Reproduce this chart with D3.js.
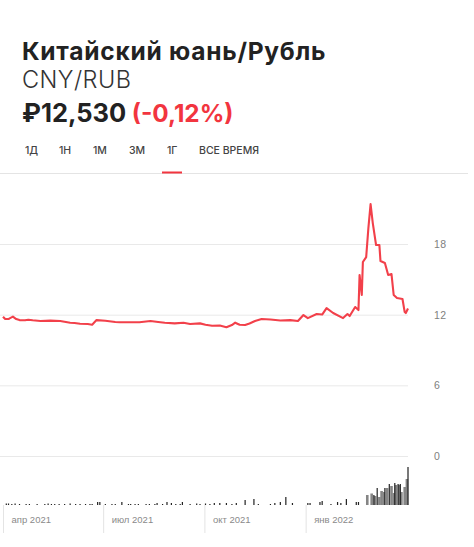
<!DOCTYPE html>
<html>
<head>
<meta charset="utf-8">
<script src="https://cdn.jsdelivr.net/npm/d3@7"></script>
<style>
  html, body { margin: 0; padding: 0; background: #fff; }
  svg { display: block; font-family: Inter, "Noto Sans", sans-serif; }
  .y-axis .domain { display: none; }
  .y-axis line { stroke: #e9e9e9; }
  .y-axis text { fill: #808080; font-size: 10.5px; letter-spacing: 0.5px; }
  .x-axis .domain { display: none; }
  .x-axis line { stroke: #e4e4e4; }
  .x-axis text { fill: #8a8a8a; font-size: 9.5px; text-anchor: start; }
</style>
</head>
<body>
<svg id="chart" width="474" height="547"></svg>
<script>
var title = "Китайский юань/Рубль",
    ticker = "CNY/RUB",
    price = "₽12,530",
    change = "(-0,12%)";

var tabs = ["1Д", "1Н", "1М", "3М", "1Г", "ВСЕ ВРЕМЯ"],
    tabX = [25, 59, 93, 129, 167, 199],
    activeTab = "1Г";

// days since 1 apr 2021, rate
var lineDays = [0,2,5,6,9,12,15,20,23,27,34,43,52,61,65,70,77,81,85,93,102,106,115,124,134,141,147,156,164,170,179,184,190,197,203,208,211,215,220,224,229,235,243,252,261,268,273,277,285,290,294,300,309,313,315,320,323,324,326,327,330,332,334,336,339,342,343,347,350,353,355,358,363,365,366,368];
var lineValues = [11.83,11.63,11.63,11.69,11.83,11.63,11.54,11.52,11.57,11.52,11.46,11.49,11.46,11.32,11.29,11.23,11.21,11.15,11.54,11.49,11.38,11.35,11.35,11.35,11.46,11.38,11.32,11.26,11.32,11.21,11.26,11.15,11.06,11.08,10.93,11.12,11.32,11.15,11.12,11.25,11.46,11.63,11.59,11.50,11.54,11.46,11.97,11.71,12.05,12.01,12.56,12.14,11.71,12.05,11.88,12.65,12.39,15.37,13.67,16.47,16.89,19.35,21.39,19.78,17.91,17.91,16.55,16.38,15.37,15.45,13.67,13.41,13.33,12.22,12.14,12.53];

// volume, thin dark bars
var volDays = [3,5,8,11,15,21,24,31,38,41,44,47,51,56,61,66,70,75,79,81,86,88,93,99,102,108,114,116,120,123,130,133,138,140,145,149,153,157,161,163,170,176,179,184,188,192,197,203,208,212,220,228,232,243,247,252,257,263,277,279,288,290,298,304,307,312,321,323,337,340,347,351,356,359,361,368];
var volValues = [1.5,1.5,1,1.5,1,1,1,1,1,1.5,1,1,1,1,1.5,1,1,1,1,1,3,3,1,1,1,3,1,1,1,1,1,1,1,2,1,3,2,1,1,3,1,1.5,1,1.5,1,2,2,2,1,2,5,6,1,1,2,3,8,2,2,2,3,4,1,3,2,6,3,3,10,17,17,21,22,21,21,38];

// volume, wider grey bars at the end of the period
var volGreyDays = [331,335,338,342,344,346,349,353,355,357,360,362,365,367];
var volGreyValues = [10,11.5,9,8,14,13,17,19,12,20,20,13,18,26];

var yTicks = [0, 6, 12, 18];
var xTicks = [new Date(2021, 3, 1), new Date(2021, 6, 1), new Date(2021, 9, 1), new Date(2022, 0, 1)],
    xTickLabels = ["апр 2021", "июл 2021", "окт 2021", "янв 2022"];

var startDate = new Date(2021, 3, 1);
function toDate(d) { return d3.timeDay.offset(startDate, d); }

var svg = d3.select("#chart");

var x = d3.scaleTime().domain([startDate, toDate(368)]).range([3, 408]),
    y = d3.scaleLinear().domain([0, 18]).range([456, 244]),
    yVol = d3.scaleLinear().domain([0, 38]).range([505, 467]);

// HEADER
svg.append("text").attr("x", 22).attr("y", 59.5)
  .attr("font-size", 24.5).attr("font-weight", 700).attr("fill", "#222")
  .attr("letter-spacing", 0.75)
  .text(title);
svg.append("text").attr("x", 22).attr("y", 87.5)
  .attr("font-size", 23.5).attr("font-weight", 300).attr("fill", "#333")
  .attr("letter-spacing", 0.45)
  .text(ticker);

var head = svg.append("text").attr("x", 22).attr("y", 122)
  .attr("font-size", 25.5).attr("font-weight", 700);
head.append("tspan").attr("fill", "#222").text(price);
head.append("tspan").attr("fill", "#f2353f").attr("dx", 5.5).attr("font-size", 24.3).text(change);

// TABS
svg.selectAll(".tab").data(tabs).join("text")
  .attr("class", "tab")
  .attr("x", function(d, i) { return tabX[i]; })
  .attr("y", 154)
  .attr("font-size", 10.5).attr("font-weight", 500).attr("fill", "#444")
  .text(function(d) { return d; });

svg.append("line").attr("x1", 0).attr("x2", 468).attr("y1", 173.5).attr("y2", 173.5)
  .attr("stroke", "#e4e4e4");
svg.append("line")
  .attr("x1", tabX[tabs.indexOf(activeTab)] - 5).attr("x2", tabX[tabs.indexOf(activeTab)] + 15)
  .attr("y1", 172.5).attr("y2", 172.5)
  .attr("stroke", "#f2353f").attr("stroke-width", 2);

// AXES
svg.append("g").attr("class", "y-axis")
  .attr("transform", "translate(408,0)")
  .call(d3.axisRight(y).tickValues(yTicks).tickSize(-408).tickPadding(26).tickFormat(d3.format("d")))
  .call(function(g) { g.selectAll("line").attr("x2", -408); });

svg.append("g").attr("class", "x-axis")
  .attr("transform", "translate(0,505)")
  .call(d3.axisBottom(x).tickValues(xTicks).tickSize(28)
    .tickFormat(function(d, i) { return xTickLabels[i]; }))
  .call(function(g) {
    g.selectAll("text").attr("x", 8).attr("y", 15).attr("dy", "0.35em");
  });

// VOLUME
svg.append("g").selectAll("rect").data(volGreyDays).join("rect")
  .attr("x", function(d) { return x(toDate(d)) - 1.3; })
  .attr("width", 2.6)
  .attr("y", function(d, i) { return yVol(volGreyValues[i]); })
  .attr("height", function(d, i) { return yVol(0) - yVol(volGreyValues[i]); })
  .attr("fill", "#858585");

svg.append("g").selectAll("rect").data(volDays).join("rect")
  .attr("x", function(d) { return x(toDate(d)) - 0.6; })
  .attr("width", 1.2)
  .attr("y", function(d, i) { return yVol(volValues[i]); })
  .attr("height", function(d, i) { return yVol(0) - yVol(volValues[i]); })
  .attr("fill", "#222");

// RATE LINE
var line = d3.line()
  .x(function(d) { return x(toDate(d)); })
  .y(function(d, i) { return y(lineValues[i]); });

svg.append("path")
  .attr("d", line(lineDays))
  .attr("fill", "none")
  .attr("stroke", "#f2404a")
  .attr("stroke-width", 2.1)
  .attr("stroke-linejoin", "round");
</script>
</body>
</html>
